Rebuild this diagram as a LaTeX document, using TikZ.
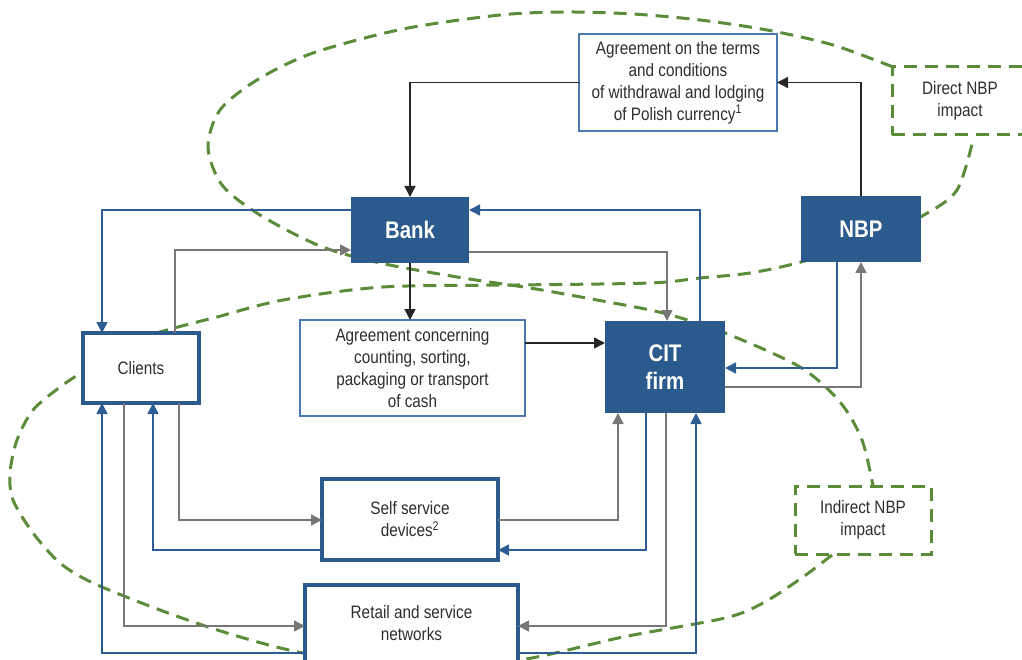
\documentclass[tikz,border=0pt]{standalone}
\usepackage{fontspec}
\setmainfont{Liberation Sans}[FakeStretch=0.85]
\usetikzlibrary{arrows.meta}
\definecolor{nbpblue}{HTML}{2B5A8C}
\definecolor{linkblue}{HTML}{2E5D96}
\definecolor{frameblue}{HTML}{4C79B0}
\definecolor{linkgray}{HTML}{777777}
\definecolor{impactgreen}{HTML}{5B8C3A}
\definecolor{txt}{HTML}{2E2E2E}

\begin{document}
\begin{tikzpicture}[x=1pt,y=-1pt,
  every node/.style={inner sep=0pt, outer sep=0pt, align=center, text=txt,
    font=\fontsize{18}{22}\selectfont},
  solidbox/.style={fill=nbpblue, text=white, font=\fontsize{24}{28}\selectfont\bfseries},
  thinbox/.style={draw=frameblue, line width=1.5pt, fill=white},
  thickbox/.style={draw=nbpblue, line width=3.2pt, fill=white},
  impactline/.style={draw=impactgreen, line width=3pt, dash pattern=on 13pt off 8pt},
  impactbox/.style={impactline, fill=white, minimum width=136pt, minimum height=68pt},
  tip/.style={-{Triangle[length=11pt,width=11pt]}},
  blk/.style={tip, draw=black!85, line width=1.5pt},
  bl/.style={tip, draw=linkblue, line width=1.7pt},
  gr/.style={tip, draw=linkgray, line width=1.5pt},
]
\useasboundingbox (0,0) rectangle (1022,660);

% impact zones (drawn first, the boxes cover them)
\draw[impactline] plot[smooth] coordinates {(893,67) (833,45) (767,30) (700,20) (633,14)
  (567,12) (500,15) (403,29) (313,53) (257,80) (220,110) (208,147) (222,185) (260,215)
  (320,246) (380,263) (463,278) (530,288) (597,300) (663,313) (725,333) (800,367)
  (840,402) (862,440) (873,486)};
\draw[impactline] plot[smooth] coordinates {(832,555) (803,577) (763,603) (725,618)
  (623,637) (520,660) (411,668) (303,653) (227,633) (160,610) (93,583) (60,563) (33,533)
  (13,500) (10,473) (17,440) (33,410) (60,387) (82,372) (120,345) (167,330) (217,317)
  (283,300) (383,287) (517,285) (650,283) (700,278) (750,273) (801,262) (870,240)
  (924,215) (957,190) (973,140)};

% boxes
\node[thinbox, minimum width=198pt, minimum height=97pt] (agtop) at (678,82.5)
  {Agreement on the terms\\and conditions\\of withdrawal and lodging\\of Polish currency\textsuperscript{1}};
\node[impactbox] (direct) at (960,101) {Direct NBP\\impact};
\node[impactbox] (indirect) at (863,520) {Indirect NBP\\impact};
\node[solidbox, minimum width=118pt, minimum height=66pt] (bank) at (410,230) {Bank};
\node[solidbox, minimum width=120pt, minimum height=66pt] (nbp) at (861,229) {NBP};
\node[thickbox, minimum width=116pt, minimum height=70pt] (clients) at (141,368) {Clients};
\node[thinbox, minimum width=225pt, minimum height=96pt] (agmid) at (412.5,368)
  {Agreement concerning\\counting, sorting,\\packaging or transport\\of cash};
\node[solidbox, minimum width=120pt, minimum height=92pt] (cit) at (665,367) {CIT\\firm};
\node[thickbox, minimum width=176pt, minimum height=81pt] (self) at (410,519.5)
  {Self service\\devices\textsuperscript{2}};
\node[thickbox, minimum width=213pt, minimum height=77pt] (retail) at (411.5,623.5)
  {Retail and service\\networks};

% agreements
\draw[blk] (agtop.west) -| (bank.north);
\draw[blk] (nbp.north) |- (agtop.east);
\draw[blk] (bank.south) -- (agmid.north -| bank.south);
\draw[blk] (agmid.east |- 0,343) -- (cit.west |- 0,343);

% flows around the bank and NBP
\draw[bl] (bank.west |- 0,210) -| (clients.north -| 102,0);
\draw[bl] (cit.north -| 700,0) |- (bank.east |- 0,210);
\draw[gr] (clients.north -| 175,0) |- (bank.west |- 0,250);
\draw[gr] (bank.east |- 0,252) -| (cit.north -| 667,0);
\draw[bl] (nbp.south -| 837,0) |- (cit.east |- 0,368);
\draw[gr] (cit.east |- 0,387) -| (nbp.south);

% flows between clients, devices, networks and the CIT firm
\draw[gr] (clients.south -| 179,0) |- (self.west |- 0,520);
\draw[bl] (self.west |- 0,550) -| (clients.south -| 153,0);
\draw[gr] (clients.south -| 124,0) |- (retail.west |- 0,626);
\draw[bl] (retail.west |- 0,653) -| (clients.south -| 102,0);
\draw[gr] (self.east |- 0,520) -| (cit.south -| 618,0);
\draw[bl] (cit.south -| 646,0) |- (self.east |- 0,550);
\draw[gr] (cit.south -| 666,0) |- (retail.east |- 0,626);
\draw[bl] (retail.east |- 0,653) -| (cit.south -| 696,0);
\end{tikzpicture}
\end{document}
